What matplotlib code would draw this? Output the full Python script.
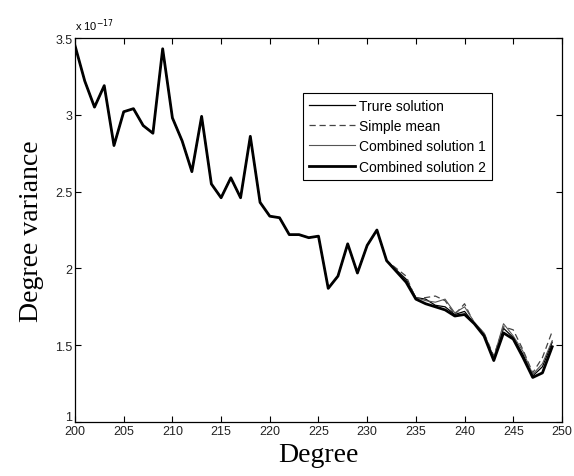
import numpy as np
import matplotlib.pyplot as plt
from matplotlib.ticker import FormatStrFormatter
from matplotlib.transforms import ScaledTranslation

# Degrees and degree variances (units of 1e-17)
degree = list(range(200, 250))

common = [3.45, 3.22, 3.05, 3.19, 2.80, 3.02, 3.04, 2.93, 2.88, 3.43,
          2.98, 2.83, 2.63, 2.99, 2.55, 2.46, 2.59, 2.46, 2.86, 2.43,
          2.34, 2.33, 2.22, 2.22, 2.20, 2.21, 1.87, 1.95, 2.16, 1.97,
          2.15, 2.25, 2.05]

true_tail = [1.99, 1.93, 1.81, 1.80, 1.76, 1.75, 1.70, 1.72, 1.64, 1.57,
             1.41, 1.61, 1.55, 1.44, 1.30, 1.36, 1.52]
mean_tail = [2.00, 1.95, 1.80, 1.81, 1.82, 1.79, 1.70, 1.77, 1.64, 1.58,
             1.43, 1.62, 1.60, 1.47, 1.32, 1.42, 1.59]
comb1_tail = [1.99, 1.92, 1.81, 1.79, 1.78, 1.80, 1.71, 1.75, 1.65, 1.58,
              1.42, 1.64, 1.56, 1.46, 1.31, 1.38, 1.53]
comb2_tail = [1.98, 1.91, 1.80, 1.77, 1.75, 1.73, 1.69, 1.70, 1.64, 1.56,
              1.40, 1.58, 1.54, 1.42, 1.29, 1.32, 1.49]

true_sol = common + true_tail
simple_mean = common + mean_tail
combined1 = common + comb1_tail
combined2 = common + comb2_tail

labels = ['Trure solution', 'Simple mean', 'Combined solution 1', 'Combined solution 2']

fig = plt.figure(figsize=(5.74, 4.77), dpi=100)
ax = fig.add_axes([0.1307, 0.1132, 0.8483, 0.8050])

ax.plot(degree, true_sol, color='black', lw=0.9, label=labels[0])
ax.plot(degree, simple_mean, color='#444444', lw=0.9, ls=(0, (5, 3)), label=labels[1])
ax.plot(degree, combined1, color='#555555', lw=0.8, label=labels[2])
ax.plot(degree, combined2, color='black', lw=2.0, label=labels[3])

ax.set_xlim(200, 250)
ax.set_ylim(1, 3.5)
ax.set_xticks(np.arange(200, 251, 5))
ax.set_yticks(np.arange(1, 3.51, 0.5))
ax.yaxis.set_major_formatter(FormatStrFormatter('%g'))
ax.tick_params(direction='in', top=True, right=True, length=4, width=0.8,
               labelsize=9, pad=2)
for lab in ax.get_xticklabels() + ax.get_yticklabels():
    lab.set_family('Liberation Sans')
    lab.set_color('#222222')
# lift the bottom y label a little so it clears the "200"
first = ax.get_yticklabels()[0]
first.set_transform(first.get_transform() + ScaledTranslation(0, 5 / 72, fig.dpi_scale_trans))
for s in ax.spines.values():
    s.set_linewidth(0.9)

ax.text(0.0, 1.012, r'x 10$^{-17}$', transform=ax.transAxes, fontsize=8,
        family='Liberation Sans', ha='left', va='bottom')

ax.set_xlabel('Degree', family='Liberation Serif', fontsize=20, labelpad=4)
ax.set_ylabel('Degree variance', family='Liberation Serif', fontsize=20, labelpad=8)

leg = ax.legend(loc='upper left', bbox_to_anchor=(0.468, 0.858), fancybox=False,
                edgecolor='black', framealpha=1, handlelength=3.3,
                prop={'family': 'Liberation Sans', 'size': 10},
                borderpad=0.45, labelspacing=0.45, handletextpad=0.3,
                borderaxespad=0)
leg.get_frame().set_linewidth(0.8)

fig.savefig('out.png', dpi=100)
